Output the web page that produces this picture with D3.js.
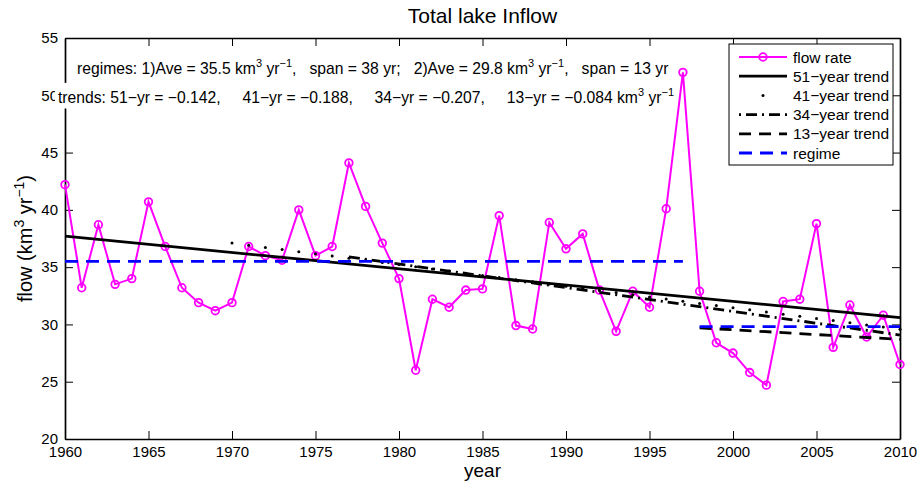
<!DOCTYPE html>
<html>
<head>
<meta charset="utf-8">
<script src="https://cdn.jsdelivr.net/npm/d3@7/dist/d3.min.js"></script>
<style>
  body { margin: 0; background: #fff; }
  svg text { font-family: "Liberation Sans", Arial, Helvetica, sans-serif; fill: #000; }
</style>
</head>
<body>
<svg id="chart" width="917" height="484"></svg>
<script>
// Annual total lake inflow (km^3 / yr)
const years = [1960,1961,1962,1963,1964,1965,1966,1967,1968,1969,
               1970,1971,1972,1973,1974,1975,1976,1977,1978,1979,
               1980,1981,1982,1983,1984,1985,1986,1987,1988,1989,
               1990,1991,1992,1993,1994,1995,1996,1997,1998,1999,
               2000,2001,2002,2003,2004,2005,2006,2007,2008,2009,2010];
const flow = [42.2,33.2,38.7,33.5,34.0,40.7,36.8,33.2,31.9,31.2,
              31.9,36.8,36.0,35.6,40.0,36.0,36.8,44.1,40.3,37.1,
              34.0,26.0,32.2,31.5,33.0,33.1,39.5,29.9,29.6,38.9,
              36.6,37.9,33.0,29.4,32.9,31.5,40.1,52.0,32.9,28.4,
              27.5,25.8,24.7,32.0,32.2,38.8,28.0,31.7,28.9,30.8,26.5];

// Linear trends: fitted window, value at first year, slope (km^3/yr per yr)
const trendLabels = ["51\u2212year trend","41\u2212year trend","34\u2212year trend","13\u2212year trend"];
const trendShort  = ["51\u2212yr","41\u2212yr","34\u2212yr","13\u2212yr"];
const trendFrom   = [1960, 1970, 1977, 1998];
const trendTo     = [2010, 2010, 2010, 2010];
const trendStartValue = [37.7, 37.1, 35.9, 29.7];
const trendSlope  = [-0.142, -0.188, -0.207, -0.084];

// Regime means
const regimeFrom = [1960, 1998];
const regimeTo   = [1997, 2010];
const regimeMean = [35.5, 29.8];
const regimeSpan = [38, 13];

const xTicks = [1960,1965,1970,1975,1980,1985,1990,1995,2000,2005,2010];
const yTicks = [20,25,30,35,40,45,50,55];

const svg = d3.select("#chart");
const L = 65, R = 900, T = 38, B = 439;
const x = d3.scaleLinear().domain([1960, 2010]).range([L, R]);
const y = d3.scaleLinear().domain([20, 55]).range([B, T]);

const magenta = "#ff00ff", blue = "#0000ff";
const fmt = d3.format(".3f");
const minus = s => s.replace("-", "\u2212");

// ---- axes (inward ticks on all four sides) ----
const tick = 8;
const gx = svg.append("g").attr("transform", `translate(0,${B})`)
  .call(d3.axisBottom(x).tickValues(xTicks).tickFormat(d3.format("d"))
        .tickSizeInner(-tick).tickSizeOuter(0).tickPadding(7));
const gy = svg.append("g").attr("transform", `translate(${L},0)`)
  .call(d3.axisLeft(y).tickValues(yTicks).tickFormat(d3.format("d"))
        .tickSizeInner(-tick).tickSizeOuter(0).tickPadding(7));
const gt = svg.append("g").attr("transform", `translate(0,${T})`)
  .call(d3.axisTop(x).tickValues(xTicks).tickFormat("")
        .tickSizeInner(-tick).tickSizeOuter(0));
const gr = svg.append("g").attr("transform", `translate(${R},0)`)
  .call(d3.axisRight(y).tickValues(yTicks).tickFormat("")
        .tickSizeInner(-tick).tickSizeOuter(0));
[gx, gy, gt, gr].forEach(g => {
  g.selectAll(".domain").attr("stroke", "#000").attr("stroke-width", 1.7);
  g.selectAll(".tick line").attr("stroke", "#000").attr("stroke-width", 1);
  g.selectAll("text").style("font-size", "15px").attr("fill", "#000");
});

// ---- data layers ----
const plot = svg.append("g");
const line = d3.line().x(d => x(d[0])).y(d => y(d[1]));
const series = years.map((yr, i) => [yr, flow[i]]);

plot.append("path").datum(series)
  .attr("d", line).attr("fill", "none")
  .attr("stroke", magenta).attr("stroke-width", 2);
plot.selectAll("circle.obs").data(series).join("circle")
  .attr("class", "obs")
  .attr("cx", d => x(d[0])).attr("cy", d => y(d[1])).attr("r", 3.8)
  .attr("fill", "none").attr("stroke", magenta).attr("stroke-width", 1.8);

const trendValue = (k, yr) => trendStartValue[k] + trendSlope[k] * (yr - trendFrom[k]);
const trendStyles = [
  { dash: null },
  { dots: true },
  { dash: "11,5,2,5" },
  { dash: "12,8" }
];
trendStyles.forEach((st, k) => {
  if (st.dots) {
    const pts = years.filter(yr => yr >= trendFrom[k] && yr <= trendTo[k])
                     .map(yr => [yr, trendValue(k, yr)]);
    plot.selectAll(`circle.tr${k}`).data(pts).join("circle")
      .attr("class", `tr${k}`)
      .attr("cx", d => x(d[0])).attr("cy", d => y(d[1])).attr("r", 1.5)
      .attr("fill", "#000");
  } else {
    plot.append("path")
      .datum([[trendFrom[k], trendValue(k, trendFrom[k])], [trendTo[k], trendValue(k, trendTo[k])]])
      .attr("d", line).attr("fill", "none")
      .attr("stroke", "#000").attr("stroke-width", 2.8)
      .attr("stroke-dasharray", st.dash);
  }
});

regimeMean.forEach((m, k) => {
  plot.append("path")
    .datum([[regimeFrom[k], m], [regimeTo[k], m]])
    .attr("d", line).attr("fill", "none")
    .attr("stroke", blue).attr("stroke-width", 2.8)
    .attr("stroke-dasharray", "13,8");
});

// ---- text with superscripts ----
function rich(sel, parts, size, supSize) {
  let raised = false;
  parts.forEach(p => {
    const sup = typeof p !== "string";
    const t = sel.append("tspan").text(sup ? p.sup : p)
      .style("font-size", (sup ? supSize : size) + "px");
    if (sup && !raised) { t.attr("dy", -size * 0.42); raised = true; }
    else if (!sup && raised) { t.attr("dy", size * 0.42); raised = false; }
  });
  return sel;
}
const unit = [" km", {sup: "3"}, " yr", {sup: "\u22121"}];

function boxedText(px, py, parts, size) {
  const g = svg.append("g");
  const t = g.append("text").attr("x", px).attr("y", py)
    .style("white-space", "pre").style("font-size", size + "px");
  rich(t, parts, size, Math.round(size * 0.72));
  const bb = t.node().getBBox();
  g.insert("rect", "text")
    .attr("x", bb.x - 3).attr("y", bb.y - 3)
    .attr("width", bb.width + 6).attr("height", bb.height + 6)
    .attr("fill", "#fff");
}

boxedText(77, 74, [
  `regimes: 1)Ave = ${regimeMean[0].toFixed(1)}`, ...unit,
  `,   span = ${regimeSpan[0]} yr;   2)Ave = ${regimeMean[1].toFixed(1)}`, ...unit,
  `,   span = ${regimeSpan[1]} yr`
], 15.7);

boxedText(58, 102.5, [
  `trends: ` + trendShort.map((s, k) => `${s} = ${minus(fmt(trendSlope[k]))}`).join(",     "),
  ...unit
], 15.7);

// ---- title and axis labels ----
svg.append("text").attr("x", (L + R) / 2).attr("y", 23)
  .attr("text-anchor", "middle").style("font-size", "21px")
  .text("Total lake Inflow");
svg.append("text").attr("x", (L + R) / 2).attr("y", 477)
  .attr("text-anchor", "middle").style("font-size", "19px")
  .text("year");
rich(svg.append("text")
  .attr("transform", `translate(32,${(T + B) / 2}) rotate(-90)`)
  .attr("text-anchor", "middle").style("font-size", "20px"),
  ["flow (km", {sup: "3"}, " yr", {sup: "\u22121"}, ")"], 20, 14);

// ---- legend ----
const lg = svg.append("g");
lg.append("rect").attr("x", 729).attr("y", 44).attr("width", 164).attr("height", 121)
  .attr("fill", "#fff").attr("stroke", "#000").attr("stroke-width", 1);
const legendItems = [
  { name: "flow rate", kind: "flow" },
  { name: trendLabels[0], kind: "solid" },
  { name: trendLabels[1], kind: "dot" },
  { name: trendLabels[2], kind: "dashdot" },
  { name: trendLabels[3], kind: "dash" },
  { name: "regime", kind: "regime" }
];
const sx0 = 739, sx1 = 787;
legendItems.forEach((it, i) => {
  const cy = 57 + i * 19.2;
  const g = lg.append("g");
  if (it.kind === "dot") {
    g.append("circle").attr("cx", (sx0 + sx1) / 2).attr("cy", cy).attr("r", 1.5).attr("fill", "#000");
  } else {
    const color = it.kind === "flow" ? magenta : it.kind === "regime" ? blue : "#000";
    const dash = it.kind === "dashdot" ? "11,5,2,5" : it.kind === "dash" ? "12,8"
               : it.kind === "regime" ? "13,8" : null;
    g.append("line").attr("x1", sx0).attr("x2", sx1).attr("y1", cy).attr("y2", cy)
      .attr("stroke", color).attr("stroke-width", it.kind === "flow" ? 2 : 2.8)
      .attr("stroke-dasharray", dash)
      .attr("stroke-dashoffset", it.kind === "dashdot" ? 16 : 0);
    if (it.kind === "flow") {
      g.append("circle").attr("cx", (sx0 + sx1) / 2).attr("cy", cy).attr("r", 3.8)
        .attr("fill", "none").attr("stroke", magenta).attr("stroke-width", 1.8);
    }
  }
  g.append("text").attr("x", 793).attr("y", cy).attr("dy", "0.36em")
    .style("font-size", "15.5px").text(it.name);
});
</script>
</body>
</html>
